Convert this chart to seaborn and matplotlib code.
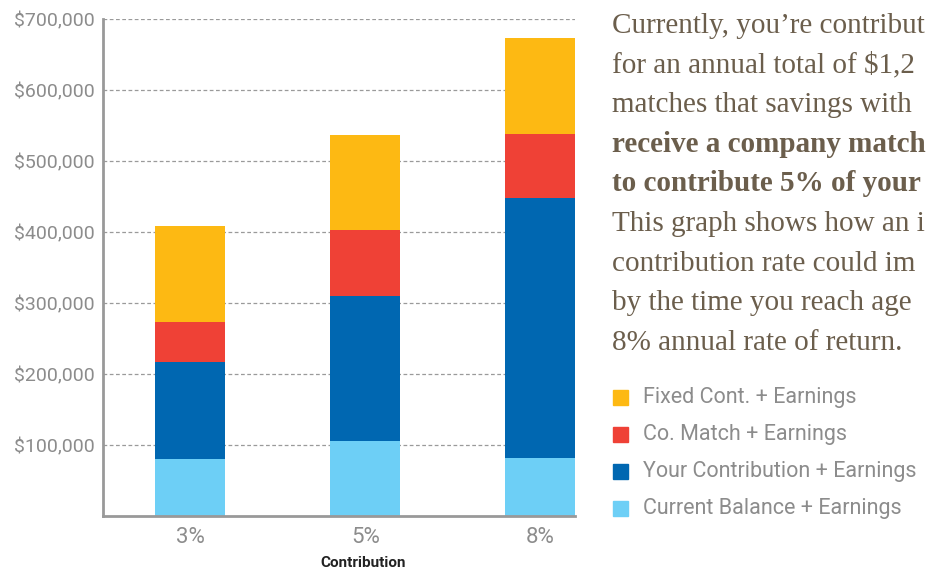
"""
Stacked retirement savings bars by contribution rate
"""
import numpy as np
import pandas as pd
import matplotlib.pyplot as plt
from matplotlib.patches import Rectangle
from matplotlib.ticker import FuncFormatter
import seaborn as sns

rates = ['3%', '5%', '8%']
current_balance = [80000, 106000, 82000]
your_contribution = [137000, 204000, 366000]
co_match = [56000, 93000, 90000]
fixed_cont = [135000, 134000, 135000]

series_names = ['Current Balance + Earnings', 'Your Contribution + Earnings',
                'Co. Match + Earnings', 'Fixed Cont. + Earnings']
colors = ['#6dcff6', '#0067b1', '#ef4136', '#fdb913']

paragraph = [
    ("Currently, you\u2019re contribut", 'normal'),
    ("for an annual total of $1,2", 'normal'),
    ("matches that savings with", 'normal'),
    ("receive a company match", 'bold'),
    ("to contribute 5% of your", 'bold'),
    ("This graph shows how an i", 'normal'),
    ("contribution rate could im", 'normal'),
    ("by the time you reach age", 'normal'),
    ("8% annual rate of return.", 'normal'),
]

data = pd.DataFrame({
    'rate': rates,
    series_names[0]: current_balance,
    series_names[1]: your_contribution,
    series_names[2]: co_match,
    series_names[3]: fixed_cont,
})
# cumulative totals so the bars can be layered tallest first
cum = data[series_names].cumsum(axis=1)
cum['rate'] = data['rate']

sns.set_theme(style="white")
plt.rcParams['font.family'] = ['Roboto', 'DejaVu Sans']
fig = plt.figure(figsize=(9.3, 5.69), dpi=100)
ax = fig.add_axes([0.1108, 0.0931, 0.5075, 0.8735])

for name, color in reversed(list(zip(series_names, colors))):
    sns.barplot(data=cum, x='rate', y=name, color=color, width=0.4,
                saturation=1, linewidth=0, ax=ax, zorder=3)

ax.set_xlim(-0.5, 2.2)
ax.set_ylim(0, 700000)
ax.set_yticks(np.arange(100000, 700001, 100000))
ax.yaxis.set_major_formatter(FuncFormatter(lambda v, p: f"${v:,.0f}"))
ax.grid(axis='y', color='#9a9a9a', linestyle=(0, (3, 2)), linewidth=0.9, zorder=0)
ax.grid(axis='x', visible=False)
for s in ['top', 'right']:
    ax.spines[s].set_visible(False)
for s in ['left', 'bottom']:
    ax.spines[s].set_color('#999999')
    ax.spines[s].set_linewidth(2)
    ax.spines[s].set_zorder(4)
ax.tick_params(axis='both', length=0, labelcolor='#8c8c8c')
ax.tick_params(axis='y', pad=6, labelsize=14)
ax.tick_params(axis='x', pad=8, labelsize=16)
ax.set_ylabel('')
ax.set_xlabel('Contribution', fontsize=11, fontweight='bold', color='#222222')
ax.xaxis.set_label_coords(0.551, -0.080)

# paragraph on the right
for i, (line, weight) in enumerate(paragraph):
    fig.text(612 / 930, 1 - (33 + i * 39.6) / 569, line, fontsize=21,
             family='Liberation Serif', fontweight=weight, color='#6b5e4c',
             va='baseline', ha='left')

# legend
for i, (name, color) in enumerate(reversed(list(zip(series_names, colors)))):
    y = 397 + i * 37.3
    fig.patches.append(Rectangle((613 / 930, 1 - (y + 7.5) / 569), 15 / 930, 15 / 569,
                                 transform=fig.transFigure, color=color, figure=fig))
    fig.text(643 / 930, 1 - y / 569, name, fontsize=15.5, family='Roboto',
             color='#8c8c8c', va='center', ha='left')

plt.savefig('out.png', dpi=100)
